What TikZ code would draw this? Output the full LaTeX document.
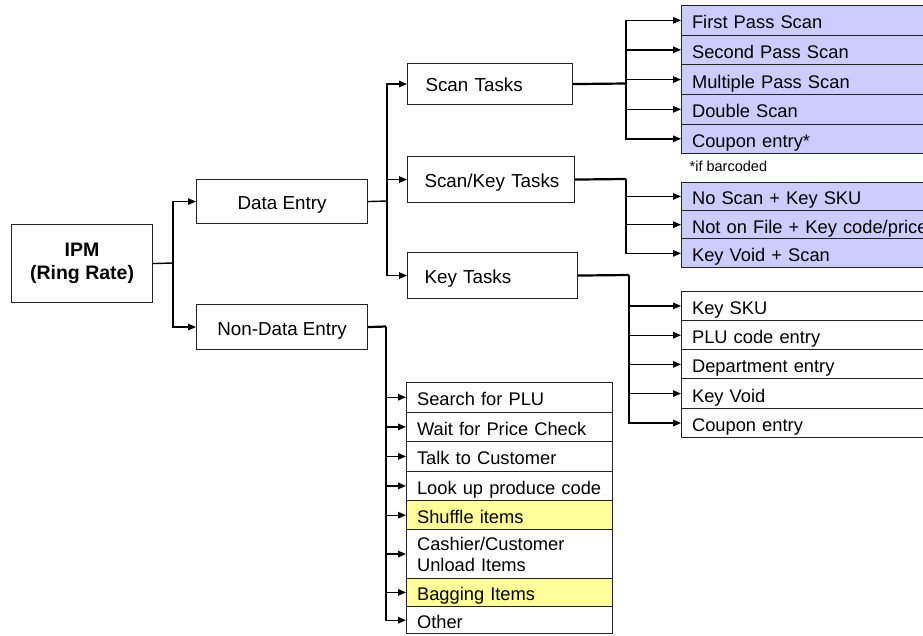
\documentclass[tikz,border=0pt]{standalone}
\usepackage{fontspec}
\setmainfont{Liberation Sans}
\usetikzlibrary{arrows.meta}
\definecolor{lav}{HTML}{CCCCFF}
\definecolor{yel}{HTML}{FFFF99}
\definecolor{bord}{HTML}{222222}
\begin{document}
\begin{tikzpicture}[x=1pt,y=-1pt,
  mainbox/.style={draw=bord, line width=1.1pt, fill=white, inner sep=0pt, anchor=north west,
    font=\fontsize{18.8}{22}\selectfont, text height=16pt, text depth=0pt},
  taskbox/.style={mainbox, align=left, inner xsep=0pt, text height=15pt},
  rowbase/.style={draw=bord, line width=1.1pt, anchor=north west, inner xsep=10.5pt, inner ysep=0pt,
    align=left, font=\fontsize{18.3}{21}\selectfont},
  row/.style={rowbase, text height=17pt, text depth=0pt},
  fanrow/.style={row, fill=lav, text width=248pt},
  keyrow/.style={row, fill=white, text width=248pt},
  ndrow/.style={row, fill=white, text width=185pt},
  conn/.style={line width=1.4pt, black},
  arr/.style={conn, -{Triangle[length=8pt,width=6.5pt]}},
  heavy/.style={line width=2.2pt, black}
]
\useasboundingbox (0,0) rectangle (923,635);
\clip (0,0) rectangle (923,635);

% level 0 and 1
\node[draw=bord, line width=1.1pt, fill=white, anchor=north west, inner sep=0pt,
  minimum width=141pt, minimum height=78pt, align=center,
  font=\bfseries\fontsize{19.5}{23}\selectfont] (ipm) at (11,224) {IPM\\(Ring Rate)};
\node[mainbox, minimum width=171pt, minimum height=44pt] (data) at (196,179) {Data Entry};
\node[mainbox, minimum width=171pt, minimum height=45pt] (nondata) at (196,304) {Non-Data Entry};

% level 2
\node[taskbox, minimum height=41pt, text width=165pt] (scan) at (407,63) {\hspace*{18pt}Scan Tasks};
\node[taskbox, minimum height=46pt, text width=167pt] (scankey) at (407,156) {\hspace*{17pt}Scan/Key Tasks};
\node[taskbox, minimum height=46pt, text width=170pt] (key) at (407,252) {\hspace*{17pt}Key Tasks};

% scan task rows
\node[fanrow, minimum height=29.5pt] (s1) at (681,5) {First Pass Scan};
\node[fanrow, minimum height=29.5pt] (s2) at (681,34.5) {Second Pass Scan};
\node[fanrow, minimum height=30pt] (s3) at (681,64) {Multiple Pass Scan};
\node[fanrow, minimum height=29.5pt] (s4) at (681,94) {Double Scan};
\node[fanrow, minimum height=29.5pt] (s5) at (681,123.5) {Coupon entry*};
\node[anchor=base west, inner sep=0pt, font=\fontsize{14.5}{17}\selectfont] (note) at (689.5,171) {*if barcoded};

% scan/key rows
\node[fanrow, minimum height=28.3pt] (k1) at (681,181.7) {No Scan + Key SKU};
\node[fanrow, minimum height=28.3pt] (k2) at (681,210) {Not on File + Key code/price};
\node[fanrow, minimum height=29pt] (k3) at (681,238.3) {Key Void + Scan};

% key rows
\node[keyrow, minimum height=29.3pt] (y1) at (681,290.7) {Key SKU};
\node[keyrow, minimum height=29.3pt] (y2) at (681,320) {PLU code entry};
\node[keyrow, minimum height=29pt] (y3) at (681,349.3) {Department entry};
\node[keyrow, minimum height=29.4pt] (y4) at (681,378.3) {Key Void};
\node[keyrow, minimum height=29.6pt] (y5) at (681,407.7) {Coupon entry};

% non-data rows
\node[ndrow, minimum height=30pt] (n1) at (406,381.7) {Search for PLU};
\node[ndrow, minimum height=29.3pt] (n2) at (406,411.7) {Wait for Price Check};
\node[ndrow, minimum height=29.7pt] (n3) at (406,441) {Talk to Customer};
\node[ndrow, minimum height=29.3pt] (n4) at (406,470.7) {Look up produce code};
\node[ndrow, fill=yel, minimum height=29.3pt] (n5) at (406,500) {Shuffle items};
\node[rowbase, fill=white, text width=185pt, minimum height=48.4pt] (n6) at (406,529.3) {Cashier/Customer\\Unload Items};
\node[ndrow, fill=yel, minimum height=28.3pt] (n7) at (406,577.7) {Bagging Items};
\node[ndrow, minimum height=27.3pt] (n8) at (406,606) {Other};

% connectors level 0 -> 1
\coordinate (j0) at (173,263);
\draw[conn] (ipm.east) -- (j0);
\draw[arr] (j0) |- (data.west);
\draw[arr] (j0) |- (nondata.west);

% Data Entry -> tasks
\coordinate (j1) at (387,201);
\draw[conn] (data.east) -- (j1);
\draw[arr] (j1) |- (scan.west);
\draw[arr] (j1) |- (scankey.west);
\draw[arr] (j1) |- (key.west);

% Scan Tasks fan
\coordinate (j2) at (626,83.5);
\draw[heavy] (scan.east) -- (j2);
\foreach \r in {s1,s2,s3,s4,s5} \draw[arr] (j2) |- (\r.west);

% Scan/Key fan
\coordinate (j3a) at (626,179);
\draw[heavy] (scankey.east) -- (j3a);
\foreach \r in {k1,k2,k3} \draw[arr] (j3a) |- (\r.west);

% Key fan
\coordinate (j4a) at (629,275);
\draw[heavy] (key.east) -- (j4a);
\foreach \r in {y1,y2,y3,y4,y5} \draw[arr] (j4a) |- (\r.west);

% Non-Data fan
\coordinate (j5) at (386,326.5);
\draw[heavy] (nondata.east) -- (j5);
\foreach \r in {n1,n2,n3,n4,n5,n6,n7,n8} \draw[arr] (j5) |- (\r.west);
\end{tikzpicture}
\end{document}
